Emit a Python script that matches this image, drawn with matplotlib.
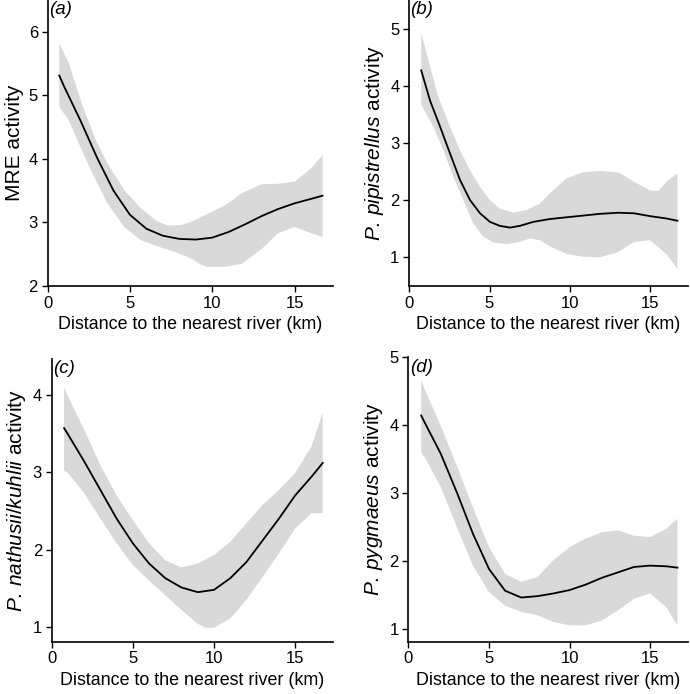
import numpy as np
import matplotlib
matplotlib.use("Agg")
import matplotlib.pyplot as plt

plt.rcParams['font.family'] = ['Liberation Sans', 'DejaVu Sans']
plt.rcParams['mathtext.fontset'] = 'custom'
plt.rcParams['mathtext.it'] = 'Liberation Sans:italic'
plt.rcParams['mathtext.rm'] = 'Liberation Sans'

# (a) MRE activity
xa_fit = [0.71, 1, 2, 3, 4, 5, 6, 7, 8, 9, 10, 11, 12, 13, 14, 15, 16, 16.7]
fit_a = [5.31, 5.14, 4.60, 4.02, 3.50, 3.12, 2.90, 2.79, 2.74, 2.73, 2.76, 2.85, 2.97, 3.10, 3.21, 3.30, 3.37, 3.42]
xa_up = [0.71, 1.3, 2.1, 2.92, 3.63, 4.65, 5.67, 6.69, 7.31, 8.12, 8.73, 9.76, 10.78, 11.8, 13, 14, 15, 16, 16.7]
up_a = [5.82, 5.50, 4.85, 4.30, 3.93, 3.51, 3.22, 3.01, 2.95, 2.96, 3.01, 3.14, 3.27, 3.46, 3.60, 3.61, 3.64, 3.85, 4.06]
xa_lo = [0.71, 1.3, 1.8, 2.61, 3.63, 4.65, 5.67, 6.69, 7.71, 8.73, 9.35, 9.76, 10.78, 11.8, 13, 14, 15, 16, 16.7]
lo_a = [4.82, 4.60, 4.30, 3.83, 3.30, 2.93, 2.72, 2.62, 2.54, 2.43, 2.33, 2.30, 2.30, 2.35, 2.58, 2.83, 2.93, 2.83, 2.77]

# (b) P. pipistrellus
xb_fit = [0.75, 1.30, 1.93, 2.55, 3.17, 3.79, 4.41, 5.03, 5.65, 6.27, 6.89, 7.72, 8.76, 9.79, 10.83, 11.86, 13, 14, 15, 16, 16.7]
fit_b = [4.27, 3.74, 3.28, 2.81, 2.35, 2.00, 1.77, 1.62, 1.55, 1.52, 1.55, 1.62, 1.67, 1.70, 1.73, 1.76, 1.78, 1.77, 1.72, 1.68, 1.64]
xb_up = [0.75, 1.1, 1.82, 2.55, 3.17, 3.79, 4.41, 5.03, 5.65, 6.48, 7.31, 8.14, 8.76, 9.79, 10.83, 11.86, 13, 14, 15, 15.5, 16, 16.7]
up_b = [4.92, 4.55, 3.80, 3.28, 2.87, 2.52, 2.23, 2.00, 1.85, 1.78, 1.83, 1.94, 2.12, 2.38, 2.49, 2.51, 2.49, 2.32, 2.17, 2.16, 2.32, 2.47]
xb_lo = [0.75, 1.51, 2.13, 2.75, 3.37, 3.99, 4.62, 5.24, 6.07, 6.89, 7.52, 8.14, 8.76, 9.79, 10.83, 11.86, 13, 14, 15, 16, 16.7]
lo_b = [3.67, 3.28, 2.87, 2.41, 2.00, 1.59, 1.36, 1.26, 1.23, 1.27, 1.33, 1.30, 1.19, 1.06, 1.01, 1.00, 1.09, 1.27, 1.30, 1.06, 0.80]

# (c) P. nathusii/kuhlii
xc_fit = [0.76, 1, 2, 3, 4, 5, 6, 7, 8, 9, 10, 11, 12, 13, 14, 15, 16, 16.7]
fit_c = [3.57, 3.49, 3.14, 2.77, 2.40, 2.08, 1.82, 1.63, 1.51, 1.45, 1.48, 1.63, 1.84, 2.12, 2.40, 2.70, 2.94, 3.12]
xc_up = [0.76, 1, 2, 3, 4, 5, 6, 7, 8, 9, 10, 11, 12, 13, 14, 15, 16, 16.7]
up_c = [4.10, 3.98, 3.55, 3.09, 2.70, 2.38, 2.08, 1.86, 1.77, 1.82, 1.93, 2.10, 2.34, 2.58, 2.77, 2.99, 3.33, 3.77]
xc_lo = [0.76, 1, 2, 3, 4, 5, 6, 7, 8, 9, 9.5, 10, 11, 12, 13, 14, 15, 16, 16.7]
lo_c = [3.02, 2.99, 2.73, 2.40, 2.08, 1.80, 1.60, 1.41, 1.22, 1.04, 0.99, 0.99, 1.11, 1.35, 1.65, 1.95, 2.27, 2.47, 2.47]

# (d) P. pygmaeus
xd_fit = [0.79, 1, 2, 3, 4, 5, 6, 7, 8, 9, 10, 11, 12, 13, 14, 15, 16, 16.7]
fit_d = [4.14, 4.04, 3.58, 3.01, 2.40, 1.88, 1.56, 1.46, 1.48, 1.52, 1.57, 1.65, 1.75, 1.83, 1.91, 1.93, 1.92, 1.90]
xd_up = [0.79, 1, 2, 3, 4, 5, 6, 7, 8, 9, 10, 11, 12, 13, 14, 15, 16, 16.7]
up_d = [4.66, 4.53, 3.99, 3.40, 2.79, 2.20, 1.81, 1.69, 1.76, 2.01, 2.20, 2.33, 2.42, 2.45, 2.37, 2.35, 2.47, 2.62]
xd_lo = [0.79, 1, 2, 3, 4, 5, 6, 7, 8, 9, 10, 11, 12, 13, 14, 15, 16, 16.7]
lo_d = [3.60, 3.53, 3.09, 2.50, 1.93, 1.54, 1.34, 1.25, 1.20, 1.10, 1.05, 1.05, 1.12, 1.27, 1.44, 1.52, 1.32, 1.05]

xlabel = "Distance to the nearest river (km)"
ylabels = ["MRE activity",
           r"$\mathit{P.\,pipistrellus}$ activity",
           r"$\mathit{P.\,nathusii/kuhlii}$ activity",
           r"$\mathit{P.\,pygmaeus}$ activity"]
tags = ["(a)", "(b)", "(c)", "(d)"]

fig = plt.figure(figsize=(6.9, 6.94), dpi=100)

panels = [
    ([0.069, 0.588, 0.414, 0.412], xa_fit, fit_a, xa_up, up_a, xa_lo, lo_a, (2, 6.5), [2, 3, 4, 5, 6]),
    ([0.593, 0.588, 0.404, 0.412], xb_fit, fit_b, xb_up, up_b, xb_lo, lo_b, (0.5, 5.5), [1, 2, 3, 4, 5]),
    ([0.075, 0.0754, 0.408, 0.408], xc_fit, fit_c, xc_up, up_c, xc_lo, lo_c, (0.81, 4.47), [1, 2, 3, 4]),
    ([0.592, 0.0754, 0.405, 0.410], xd_fit, fit_d, xd_up, up_d, xd_lo, lo_d, (0.81, 5.0), [1, 2, 3, 4, 5]),
]

for i, (pos, xf, fit, xu, up, xl, lo, ylim, yt) in enumerate(panels):
    ax = fig.add_axes(pos)
    # confidence band as one polygon: upper edge forward, lower edge back
    ax.fill(np.concatenate([xu, xl[::-1]]), np.concatenate([up, lo[::-1]]),
            color='#d9d9d9', linewidth=0)
    ax.plot(xf, fit, color='black', linewidth=1.3)
    ax.set_xlim(0, 17.35)
    ax.set_ylim(*ylim)
    ax.set_xticks([0, 5, 10, 15])
    ax.set_yticks(yt)
    ax.spines['top'].set_visible(False)
    ax.spines['right'].set_visible(False)
    ax.spines['left'].set_linewidth(1.2)
    ax.spines['bottom'].set_linewidth(1.2)
    ax.tick_params(length=4, width=1, labelsize=12, pad=3)
    ax.set_xlabel(xlabel, fontsize=12.9, labelpad=4)
    ax.set_ylabel(ylabels[i], fontsize=15, labelpad=3)
    ax.text(0.005, 0.995, tags[i], transform=ax.transAxes, fontsize=13.5,
            style='italic', va='top', ha='left')

fig.savefig("out.png", dpi=100)
